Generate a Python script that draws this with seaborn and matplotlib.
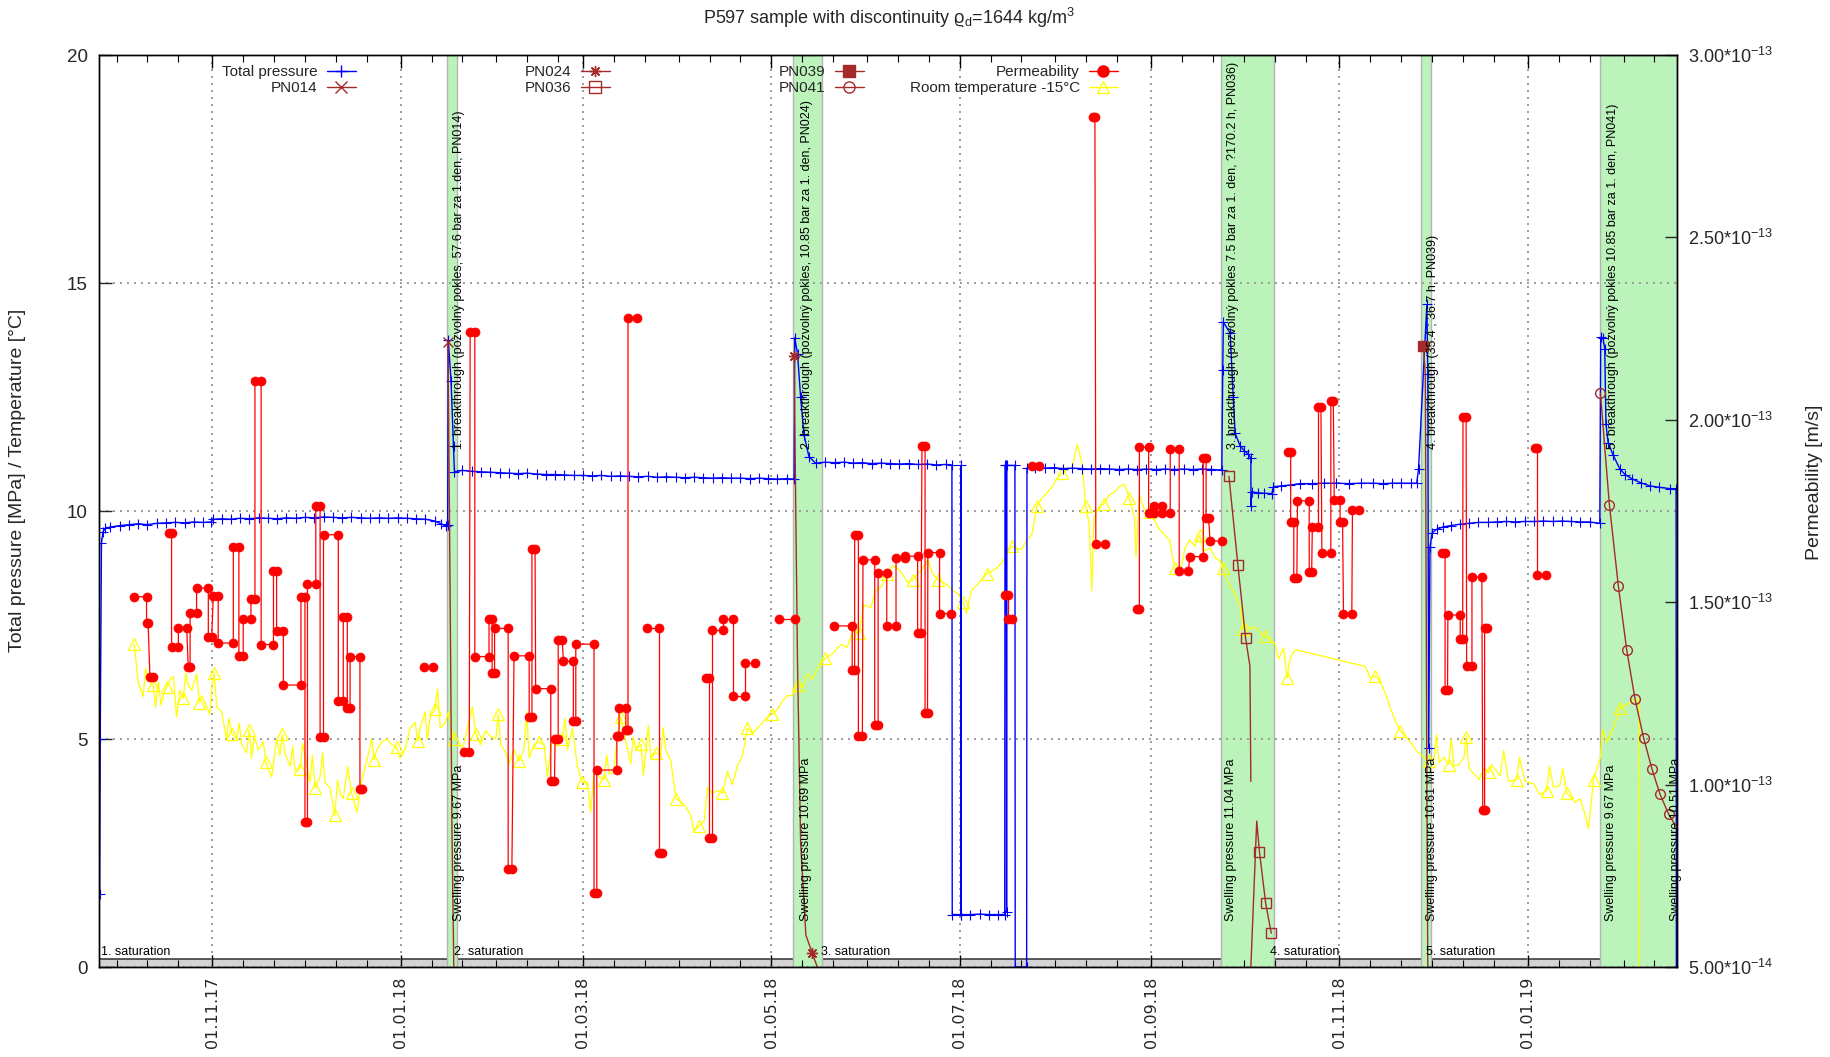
import numpy as np
import pandas as pd
import matplotlib
matplotlib.use("Agg")
import matplotlib.pyplot as plt
import matplotlib.dates as mdates
from matplotlib.lines import Line2D
from matplotlib.ticker import FixedLocator, NullFormatter
import seaborn as sns

# ---------------------------------------------------------------- data
BASE_DATE = "2017-11-01"          # day 0 of every "day" value below
X_RANGE_DAYS = (-36.7, 474.3)     # visible date range (days from BASE_DATE)

# total pressure [MPa]  (day, value)
total_pressure = [
    (-36.5, 1.6), (-36.3, 5.0), (-35.9, 9.3), (-35.4, 9.55), (-34.6, 9.62), (-33, 9.65),
    (-30, 9.68), (-27, 9.70), (-24, 9.72), (-21, 9.70), (-18, 9.73), (-15, 9.74),
    (-12, 9.75), (-9, 9.74), (-6, 9.76), (-3, 9.75), (-0.5, 9.76), (0.3, 9.82), (3, 9.83),
    (6, 9.82), (9, 9.84), (12, 9.83), (15, 9.85), (18, 9.84), (21, 9.83), (24, 9.85),
    (27, 9.84), (30, 9.86), (33, 9.85), (36, 9.87), (39, 9.86), (42, 9.85), (45, 9.86),
    (48, 9.85), (51, 9.84), (54, 9.85), (57, 9.84), (60, 9.85), (63, 9.84), (66, 9.83),
    (69, 9.82), (72, 9.78), (74, 9.72), (75.6, 9.68), (76.2, 9.70), (76.4, 13.75),
    (77.3, 12.86), (78.1, 11.43), (78.4, 10.86), (81, 10.89), (84, 10.87), (87, 10.86),
    (90, 10.85), (93, 10.84), (96, 10.83), (99, 10.82), (102, 10.83), (105, 10.81),
    (108, 10.80), (111, 10.80), (114, 10.79), (117, 10.78), (120, 10.78), (123, 10.77),
    (126, 10.78), (129, 10.76), (132, 10.77), (135, 10.76), (138, 10.75), (141, 10.76),
    (144, 10.74), (147, 10.75), (150, 10.74), (153, 10.73), (156, 10.74), (159, 10.73),
    (162, 10.72), (165, 10.73), (168, 10.72), (171, 10.72), (174, 10.71), (177, 10.72),
    (180, 10.71), (183, 10.70), (186, 10.71), (188.4, 10.70), (188.6, 13.80),
    (189.5, 13.45), (190.5, 12.50), (191.6, 11.67), (193.2, 11.19), (195.4, 11.05),
    (198.5, 11.07), (201.5, 11.06), (204.5, 11.07), (207.5, 11.05), (210.5, 11.06),
    (213.5, 11.04), (216.5, 11.05), (219.5, 11.04), (222.5, 11.03), (225.5, 11.04),
    (228.5, 11.02), (231.5, 11.03), (234.5, 11.01), (237.5, 11.02), (239.5, 11.00),
    (239.6, 1.15), (242.4, 1.15), (242.45, 11.0), (242.5, 1.15), (245.5, 1.15),
    (248.5, 1.16), (251.5, 1.15), (254.5, 1.15), (256.6, 1.15), (256.7, 11.0),
    (257.1, 11.0), (257.2, 1.2), (257.3, 11.0), (259.9, 11.0), (260.0, 0.0), (263.7, 0.0),
    (263.8, 10.94), (266.5, 10.95), (269.5, 10.94), (272.5, 10.95), (275.5, 10.93),
    (278.5, 10.94), (281.5, 10.93), (284.5, 10.92), (287.5, 10.93), (290.5, 10.92),
    (293.5, 10.91), (296.5, 10.92), (299.5, 10.91), (302.5, 10.92), (305.5, 10.91),
    (308.5, 10.92), (311.5, 10.91), (314.5, 10.92), (317.5, 10.91), (320.5, 10.92),
    (323.5, 10.91), (326.9, 10.90), (327.2, 13.10), (327.4, 14.14), (329.6, 13.90),
    (330.6, 12.49), (331.2, 11.71), (332.8, 11.43), (334.2, 11.32), (335.5, 11.24),
    (336.3, 11.16), (336.35, 10.10), (336.6, 10.42), (338.5, 10.40), (340.5, 10.39),
    (343.1, 10.38), (343.6, 10.53), (346, 10.55), (349, 10.57), (352.2, 10.60),
    (356, 10.60), (360, 10.61), (364, 10.61), (368, 10.60), (372, 10.61), (376, 10.61),
    (379, 10.60), (382, 10.61), (385, 10.61), (388, 10.61), (390.0, 10.61),
    (390.6, 10.92), (393.3, 14.53), (393.6, 13.00), (393.9, 4.80), (394.3, 9.20),
    (395.0, 9.52), (396.5, 9.60), (398.5, 9.65), (401, 9.68), (404, 9.71), (407, 9.73),
    (410, 9.75), (413, 9.75), (416, 9.76), (419, 9.77), (422, 9.76), (425, 9.77),
    (428, 9.77), (431, 9.78), (434, 9.77), (437, 9.78), (440, 9.77), (443, 9.76),
    (446, 9.76), (449.3, 9.73), (449.6, 13.81), (450.3, 13.80), (450.9, 13.56),
    (451.3, 11.90), (452.0, 11.50), (453.6, 11.23), (455.8, 10.92), (457.5, 10.80),
    (459.6, 10.71), (462.5, 10.62), (465.5, 10.55), (468.5, 10.52), (472.0, 10.49),
    (474.0, 10.49), (474.1, 0.0),
]

# room temperature -15 °C  (day, value)
room_temperature = [
    (-25.3, 7.08), (-24.0, 6.25), (-22.4, 5.93), (-21.6, 6.55), (-20.7, 6.31), (-19.1, 6.19),
    (-18.4, 5.70), (-17.5, 6.25), (-16.6, 5.75), (-15.9, 5.95), (-14.8, 6.13), (-13.7, 6.31),
    (-12.6, 6.37), (-11.6, 5.48), (-10.5, 6.07), (-9.4, 5.89), (-8.6, 6.45), (-7.8, 6.19),
    (-6.7, 6.07), (-5.1, 6.43), (-4.2, 5.80), (-3.5, 5.95), (-1.8, 5.71), (-0.8, 5.54),
    (-0.2, 6.13), (0.6, 6.45), (1.4, 5.71), (3.0, 5.60), (4.6, 5.00), (5.4, 5.45),
    (6.3, 5.12), (7.9, 5.00), (8.7, 5.35), (9.5, 4.88), (11.1, 4.70), (12.0, 5.20),
    (12.7, 4.58), (13.6, 5.05), (14.9, 4.76), (16.5, 4.94), (17.3, 4.50), (18.1, 4.35),
    (19.2, 4.17), (20.8, 5.00), (21.9, 4.64), (22.7, 5.10), (23.5, 4.70), (25.2, 4.40),
    (26.0, 4.85), (26.8, 4.29), (28.4, 4.35), (29.2, 4.90), (30.0, 4.64), (31.6, 4.05),
    (32.4, 4.65), (33.3, 3.93), (34.9, 4.17), (35.7, 4.70), (36.5, 4.05), (38.1, 3.93),
    (39.7, 3.33), (40.5, 4.10), (41.4, 3.81), (42.4, 3.69), (43.8, 4.40), (45.1, 3.81),
    (46.8, 3.39), (48.4, 4.11), (50.0, 4.52), (51.6, 5.00), (52.4, 4.55), (53.2, 4.76),
    (54.9, 4.94), (56.5, 5.00), (58.1, 4.88), (59.7, 4.82), (60.8, 4.58), (62.4, 4.76),
    (64.0, 5.24), (65.7, 5.36), (66.5, 4.95), (67.3, 5.24), (68.9, 5.60), (69.6, 5.00),
    (70.5, 5.48), (72.1, 5.65), (72.9, 6.10), (73.8, 5.24), (75.4, 5.36), (76.5, 5.60),
    (78.1, 5.00), (79.3, 5.00), (81.0, 4.76), (82.6, 5.24), (84.2, 5.71), (85.3, 5.12),
    (86.9, 4.88), (88.5, 5.18), (90.1, 5.06), (91.8, 5.00), (92.6, 5.55), (93.4, 4.88),
    (95.0, 4.70), (96.1, 4.46), (97.7, 4.76), (99.3, 4.52), (100.9, 4.76), (101.8, 5.60),
    (102.6, 4.58), (104.2, 4.88), (105.8, 4.94), (107.4, 4.88), (108.5, 4.17), (110.1, 5.00),
    (111.7, 4.88), (113.3, 5.00), (114.2, 5.45), (115.0, 4.76), (116.6, 5.24), (118.2, 4.40),
    (119.8, 4.05), (121.5, 4.05), (122.5, 3.39), (123.6, 4.29), (125.3, 4.17), (126.9, 4.11),
    (127.7, 4.65), (128.5, 4.23), (130.1, 4.29), (131.2, 5.12), (132.3, 5.48), (133.9, 4.94),
    (135.5, 4.46), (136.3, 5.05), (137.2, 4.76), (138.8, 4.88), (139.6, 4.20), (140.4, 4.76),
    (141.2, 5.30), (142.0, 4.58), (143.6, 4.70), (145.2, 4.64), (146.0, 5.25), (146.8, 4.76),
    (148.5, 4.52), (150.1, 3.69), (151.7, 3.63), (153.3, 3.51), (154.9, 3.33), (156.0, 2.98),
    (157.7, 3.10), (159.3, 3.21), (160.3, 3.93), (161.9, 3.81), (163.6, 3.87), (165.2, 3.81),
    (166.8, 4.29), (168.4, 4.00), (170.0, 4.40), (171.7, 4.64), (173.3, 5.24), (174.9, 5.12),
    (176.5, 5.24), (178.1, 5.36), (179.7, 5.48), (181.3, 5.54), (183.0, 5.65), (184.6, 5.83),
    (186.2, 5.95), (187.8, 5.95), (189.5, 6.19), (191.1, 6.13), (192.7, 6.43), (194.3, 6.31),
    (195.9, 6.55), (198.5, 6.77), (201.2, 6.89), (203.4, 7.07), (205.5, 7.01), (207.7, 7.38),
    (209.4, 7.32), (211.0, 7.94), (213.2, 7.88), (214.8, 8.25), (217.0, 8.37), (218.6, 8.62),
    (220.2, 8.80), (221.9, 8.74), (223.5, 8.62), (225.1, 8.43), (226.8, 8.49), (228.4, 8.62),
    (230.0, 8.74), (231.7, 8.93), (233.3, 8.62), (234.9, 8.49), (236.6, 8.43), (238.2, 8.37),
    (239.8, 8.25), (241.5, 8.19), (243.1, 8.00), (244.2, 7.75), (245.8, 8.25), (247.4, 8.37),
    (249.1, 8.49), (250.7, 8.62), (252.3, 8.68), (254.0, 8.74), (255.6, 8.86), (257.2, 9.05),
    (258.9, 9.23), (260.5, 9.17), (262.1, 9.17), (263.8, 9.36), (265.4, 9.48), (267.0, 10.10),
    (268.7, 10.28), (270.3, 10.41), (271.9, 10.53), (273.6, 10.72), (275.2, 10.84),
    (276.8, 10.90), (278.5, 10.96), (280.1, 11.46), (281.7, 11.02), (282.8, 10.10),
    (283.9, 9.73), (284.8, 8.25), (285.5, 9.85), (287.2, 10.10), (288.8, 10.16),
    (290.4, 10.35), (292.1, 10.41), (293.7, 10.53), (295.3, 10.59), (297.0, 10.28),
    (298.6, 9.85), (299.1, 8.99), (300.2, 10.35), (301.8, 10.04), (303.5, 9.98),
    (305.1, 9.79), (306.7, 9.60), (308.4, 9.48), (310.0, 9.36), (311.6, 8.74), (313.3, 8.62),
    (314.9, 9.17), (316.5, 9.36), (318.2, 9.23), (319.8, 9.48), (320.9, 9.11), (323.1, 9.19),
    (324.7, 8.98), (326.3, 8.90), (327.4, 8.74), (328.5, 8.49), (329.6, 8.36), (331.2, 8.16),
    (332.8, 7.91), (333.9, 7.41), (335.0, 7.50), (336.1, 7.41), (337.7, 7.45), (339.3, 7.33),
    (341.0, 7.25), (342.6, 7.17), (344.2, 7.08), (345.3, 6.75), (346.9, 7.00), (348.0, 6.34),
    (349.1, 6.79), (350.7, 6.96), (373.4, 6.59), (375.0, 6.34), (376.6, 6.38), (378.2, 6.26),
    (379.9, 6.00), (381.5, 5.68), (383.1, 5.39), (384.7, 5.18), (386.3, 5.06), (388.0, 4.93),
    (390.1, 4.73), (392.3, 4.60), (393.9, 4.52), (395.6, 4.56), (396.4, 5.10), (397.2, 4.48),
    (398.8, 4.60), (400.4, 4.44), (401.2, 5.00), (402.1, 4.40), (403.7, 4.44), (405.3, 4.60),
    (406.1, 5.05), (406.9, 4.36), (408.6, 4.23), (410.2, 4.11), (411.8, 4.36), (413.4, 4.27),
    (414.3, 4.44), (417.0, 4.19), (418.2, 4.75), (419.7, 4.07), (422.4, 4.11), (423.3, 4.60),
    (425.1, 4.07), (427.8, 4.02), (429.9, 3.78), (432.1, 3.86), (433.0, 4.40), (434.3, 3.94),
    (436.4, 3.98), (437.3, 4.35), (438.6, 3.82), (441.3, 3.61), (442.9, 3.69), (444.5, 3.36),
    (445.6, 3.03), (447.3, 4.11), (449.5, 4.60), (450.2, 5.20), (451.6, 4.93), (453.8, 5.26),
    (455.9, 5.68), (458.1, 5.76), (460.3, 5.84), (461.9, 5.88), (461.95, 0.0),
]

# permeability measurements: start day, end day, value [1e-13 m/s]; nan = gap
perm_start = [-25.3, -21.3, -20.2, np.nan, -13.9, -13.2, -11.0, -7.8, -7.2, -5.1, -1.3, 0.3,
              1.9, 6.8, 8.6, 10.0, 12.5, 13.8, 15.8, 19.8, 20.8, 23.0, 28.7, 30.0, 30.8, 33.5,
              34.9, 36.0, 40.8, 42.4, 43.7, 44.6, 47.8, np.nan, 68.4, np.nan, 81.5, 83.5, 85.0,
              89.6, 90.6, 91.4, 95.8, 97.7, 102.6, 103.5, 104.7, 109.6, 111.0, 112.0, 113.7,
              116.9, 117.7, 123.6, 124.5, 131.0, 131.7, 133.9, 134.6, np.nan, 140.7, 144.6,
              np.nan, 159.8, 160.8, 161.9, 165.5, 168.7, 172.4, np.nan, 183.5, np.nan, 201.2,
              207.2, 208.0, 209.2, 210.7, 214.5, 215.6, 218.4, 221.4, 224.3, 228.4, 229.8,
              230.8, 231.7, 235.5, np.nan, 256.8, 257.8, np.nan, 265.4, np.nan, 285.1, 286.1,
              np.nan, 299.4, 300.2, 303.2, 305.0, 307.5, 310.2, 313.1, 316.6, 320.9, 321.8,
              323.1, np.nan, 348.2, 349.2, 350.2, 351.4, 355.2, 356.2, 358.2, 359.3, 362.2,
              363.3, 365.2, 366.3, 369.2, np.nan, 398.2, 399.2, 400.1, 404.1, 405.0, 406.2,
              407.9, 411.4, 412.0, np.nan, 428.3, 428.9]
perm_end = [-21.3, -20.8, -19.1, np.nan, -13.2, -11.0, -8.3, -7.2, -5.1, -1.3, -0.2, 1.9,
            6.8, 8.6, 10.0, 12.5, 13.8, 15.8, 19.8, 20.8, 23.0, 28.7, 30.0, 30.8, 33.5, 34.9,
            36.0, 40.8, 42.4, 43.7, 44.6, 47.8, 48.4, np.nan, 71.6, np.nan, 83.2, 85.0, 89.6,
            90.6, 91.4, 95.8, 97.0, 102.6, 103.5, 104.5, 109.6, 110.8, 112.0, 113.3, 116.9,
            117.7, 123.6, 124.5, 131.0, 131.7, 133.9, 134.6, 137.6, np.nan, 144.6, 145.7,
            np.nan, 160.8, 161.9, 165.5, 168.7, 172.4, 175.6, np.nan, 188.6, np.nan, 207.2,
            208.0, 209.2, 210.5, 214.5, 215.6, 218.4, 221.4, 224.3, 228.4, 229.5, 230.8,
            231.6, 235.5, 239.1, np.nan, 257.8, 258.8, np.nan, 267.6, np.nan, 285.8, 289.1,
            np.nan, 300.2, 303.2, 305.0, 307.5, 310.2, 313.1, 316.0, 320.9, 321.8, 322.6,
            327.1, np.nan, 349.2, 350.2, 351.2, 355.2, 356.0, 358.2, 359.0, 362.2, 363.0,
            365.2, 366.0, 369.0, 371.4, np.nan, 399.2, 400.0, 404.1, 404.9, 406.0, 407.9,
            411.1, 412.0, 412.8, np.nan, 428.9, 431.9]
perm_e13 = [1.515, 1.443, 1.294, np.nan, 1.690, 1.378, 1.429, 1.321, 1.470, 1.539, 1.404,
            1.518, 1.388, 1.651, 1.353, 1.453, 1.510, 2.106, 1.384, 1.586, 1.420, 1.273,
            1.513, 0.898, 1.550, 1.763, 1.130, 1.685, 1.228, 1.459, 1.210, 1.351, 0.988,
            np.nan, 1.321, np.nan, 1.088, 2.241, 1.351, 1.453, 1.306, 1.428, 0.768, 1.353,
            1.185, 1.646, 1.263, 1.009, 1.125, 1.396, 1.338, 1.173, 1.385, 0.704, 1.040,
            1.133, 1.211, 1.151, 2.280, np.nan, 1.430, 0.813, np.nan, 1.291, 0.853, 1.423,
            1.453, 1.244, 1.334, np.nan, 1.453, np.nan, 1.435, 1.314, 1.685, 1.134, 1.616,
            1.164, 1.581, 1.434, 1.620, 1.626, 1.415, 1.929, 1.195, 1.636, 1.469, np.nan,
            1.519, 1.454, np.nan, 1.874, np.nan, 2.830, 1.659, np.nan, 1.480, 1.925, 1.744,
            1.763, 1.744, 1.920, 1.585, 1.625, 1.894, 1.731, 1.668, np.nan, 1.913, 1.721,
            1.566, 1.778, 1.584, 1.705, 2.036, 1.634, 2.051, 1.781, 1.721, 1.468, 1.753,
            np.nan, 1.635, 1.259, 1.465, 1.398, 2.009, 1.324, 1.569, 0.931, 1.429, np.nan,
            1.923, 1.574]

# breakthrough pressure decays [MPa] (day, value)
pn014 = [(76.3, 13.70), (76.9, 9.0), (77.6, 3.0), (78.2, 0.0)]
pn024 = [(188.4, 13.39), (188.9, 10.20), (189.5, 6.67), (190.5, 2.74), (192.2, 0.70),
         (194.3, 0.30), (195.9, 0.0)]
pn036 = [(329.2, 10.76), (332.1, 8.82), (334.6, 7.21), (336.0, 6.60), (336.3, 4.07),
         (np.nan, np.nan), (336.3, 0.0), (338.2, 3.20), (339.1, 2.52), (341.1, 1.40),
         (342.9, 0.74)]
pn039 = [(392.2, 13.61), (392.8, 13.00), (393.3, 4.00), (393.6, 0.0)]
pn041 = [(449.5, 12.58), (452.4, 10.14), (455.3, 8.36), (458.0, 6.96), (460.7, 5.88),
         (463.5, 5.02), (466.2, 4.34), (468.8, 3.79), (471.6, 3.35), (474.3, 3.05)]
# indices of the PN points that carry a symbol
pn014_marked = [0]
pn024_marked = [0, 5]
pn036_marked = [0, 1, 2, 8, 9, 10]
pn039_marked = [0]
pn041_marked = [0, 1, 2, 3, 4, 5, 6, 7, 8]

# test phases (green bands), days
phase_start = [76.0, 188.0, 326.6, 391.5, 449.4]
phase_end = [79.1, 197.5, 343.8, 394.5, 474.3]

breakthrough_day = [80.0, 192.6, 330.4, 395.4, 453.5]
breakthrough_text = [
    "1. breakthrough (pozvolný pokles, 57.6 bar za 1.den, PN014)",
    "2. breakthrough (pozvolný pokles, 10.85 bar za 1. den, PN024)",
    "3. breakthrough (pozvolný pokles 7.5 bar za 1. den, ?170.2 h, PN036)",
    "4. breakthrough (35.4 ; 36.7 h, PN039)",
    "5. breakthrough (pozvolný pokles 10.85 bar za 1. den, PN041)",
]
swelling_day = [80.0, 192.4, 330.0, 395.0, 452.8, 474.0]
swelling_text = ["Swelling pressure 9.67 MPa", "Swelling pressure 10.69 MPa",
                 "Swelling pressure 11.04 MPa", "Swelling pressure 10.61 MPa",
                 "Swelling pressure 9.67 MPa", "Swelling pressure 10.51 MPa"]
saturation_day = [-35.9, 78.2, 197.0, 342.5, 393.1]
saturation_text = ["1. saturation", "2. saturation", "3. saturation", "4. saturation",
                   "5. saturation"]

left_ticks = [0, 5, 10, 15, 20]
perm_ticks = [5e-14, 1e-13, 1.5e-13, 2e-13, 2.5e-13, 3e-13]
perm_tick_labels = ["5.00*10$^{-14}$", "1.00*10$^{-13}$", "1.50*10$^{-13}$",
                    "2.00*10$^{-13}$", "2.50*10$^{-13}$", "3.00*10$^{-13}$"]

# ---------------------------------------------------------------- style
sns.set_theme(style="ticks")
plt.rcParams["font.family"] = ["Liberation Sans", "DejaVu Sans"]
plt.rcParams["mathtext.default"] = "regular"
plt.rcParams["xtick.direction"] = "in"
plt.rcParams["ytick.direction"] = "in"

BLUE, RED, YELLOW, BROWN = "#0000ff", "#ff0000", "#ffff00", "#a52a2a"
GREEN, GREY = "#bbf3bb", "#d3d3d3"

base = mdates.date2num(pd.Timestamp(BASE_DATE))


def dn(days):
    return base + np.asarray(days, dtype=float)


def draw(ax, pts, marked=None, **kw):
    """Draw a (day, value) series with seaborn, breaking at nan rows."""
    arr = np.asarray(pts, dtype=float)
    breaks = np.where(np.isnan(arr[:, 0]))[0]
    start = 0
    for stop in list(breaks) + [len(arr)]:
        seg = arr[start:stop]
        if len(seg):
            mk = None
            if marked is not None:
                mk = [i - start for i in marked if start <= i < stop]
            sns.lineplot(x=dn(seg[:, 0]), y=seg[:, 1], ax=ax, estimator=None,
                         sort=False, legend=False, markevery=mk, **kw)
        start = stop + 1


fig = plt.figure(figsize=(18.3, 10.57), dpi=100)
ax = fig.add_axes([99 / 1830, 1 - 967 / 1057, 1578 / 1830, 912 / 1057])
ax2 = ax.twinx()

ax.set_xlim(dn(X_RANGE_DAYS[0]), dn(X_RANGE_DAYS[1]))
ax.set_ylim(0, 20)
ax2.set_ylim(5e-14, 3e-13)

# background bands
ax.axhspan(0, 0.18, color=GREY, zorder=0.1, lw=0)
ax.axhline(0.18, color="#303030", lw=1.1, zorder=0.15)
for a, b in zip(phase_start, phase_end):
    ax.axvspan(dn(a), dn(b), facecolor=GREEN, edgecolor="#b4b4b4", lw=1.0, zorder=0.3)

# grid
ax.set_axisbelow(True)
ax.grid(True, which="major", axis="both", color="#9a9a9a",
        linestyle=(0, (1.0, 2.6)), linewidth=1.4)

# series on the left axis
draw(ax, room_temperature, marked=list(range(0, len(room_temperature), 5)),
     color=YELLOW, linewidth=0.9, marker="^", markersize=8, fillstyle="none",
     mec=YELLOW, mew=0.9)
draw(ax, total_pressure, marked=list(range(len(total_pressure))), color=BLUE,
     linewidth=1.0, marker="+", markersize=6.5, mec=BLUE, mew=0.8)
draw(ax, pn014, pn014_marked, color=BROWN, linewidth=1.0, marker="x", markersize=7,
     mec=BROWN, mew=1.0)
draw(ax, pn024, pn024_marked, color=BROWN, linewidth=1.0, marker=(8, 2, 0),
     markersize=8, mec=BROWN, mew=1.0)
draw(ax, pn036, pn036_marked, color=BROWN, linewidth=1.0, marker="s", markersize=7,
     fillstyle="none", mec=BROWN, mew=1.0)
draw(ax, pn039, pn039_marked, color=BROWN, linewidth=1.0, marker="s", markersize=7,
     mec=BROWN, mew=1.0)
draw(ax, pn041, pn041_marked, color=BROWN, linewidth=1.0, marker="o", markersize=7,
     fillstyle="none", mec=BROWN, mew=1.0)

# permeability on the right axis
px, py, unit = [], [], []
seg_id = 0
for a, b, v in zip(perm_start, perm_end, perm_e13):
    if np.isnan(v):
        seg_id += 1
        continue
    px += [a, b]
    py += [v * 1e-13, v * 1e-13]
    unit += [seg_id, seg_id]
perm_df = pd.DataFrame({"date": dn(px), "perm": py, "seg": unit})
sns.lineplot(data=perm_df, x="date", y="perm", units="seg", estimator=None, sort=False,
             ax=ax2, legend=False, color=RED, linewidth=0.9, marker="o", markersize=6.5,
             mec=RED, mew=0.5)

# annotations
for d, t in zip(breakthrough_day, breakthrough_text):
    ax.text(dn(d), 11.36, t, rotation=90, ha="center", va="bottom", fontsize=9,
            color="black", zorder=5, clip_on=False)
for d, t in zip(swelling_day, swelling_text):
    ax.text(dn(d), 1.0, t, rotation=90, ha="center", va="bottom", fontsize=9,
            color="black", zorder=5, clip_on=False)
for d, t in zip(saturation_day, saturation_text):
    ax.text(dn(d), 0.2, t, ha="left", va="bottom", fontsize=9, color="black", zorder=5)

# axes, ticks
ax.xaxis.set_major_locator(mdates.MonthLocator(bymonth=[1, 3, 5, 7, 9, 11]))
ax.xaxis.set_major_formatter(mdates.DateFormatter("%d.%m.%y"))
ax.xaxis.set_minor_locator(mdates.DayLocator(bymonthday=[1, 11, 21]))
ax.tick_params(axis="x", which="major", top=True, bottom=True, length=9, width=1,
               color="black", pad=7, labelsize=11.5)
ax.tick_params(axis="x", which="minor", top=True, bottom=True, length=5, width=0.8,
               color="black")
for lab in ax.get_xticklabels():
    lab.set_rotation(90)
    lab.set_fontfamily("DejaVu Sans")
    lab.set_va("top")
    lab.set_ha("center")

ax.yaxis.set_major_locator(FixedLocator(left_ticks))
ax.tick_params(axis="y", which="major", left=True, right=False, length=9, width=1,
               pad=8, labelsize=13.5)
ax2.yaxis.set_major_locator(FixedLocator(perm_ticks))
ax2.set_yticklabels(perm_tick_labels)
ax2.tick_params(axis="y", which="major", right=True, length=9, width=1, pad=8,
                labelsize=13)
ax2.yaxis.set_minor_formatter(NullFormatter())

for sp in list(ax.spines.values()) + list(ax2.spines.values()):
    sp.set_color("black")
    sp.set_linewidth(1.0)

ax.set_xlabel("")
ax2.set_xlabel("")
ax.set_ylabel("Total pressure [MPa] / Temperature [°C]", fontsize=14)
ax.yaxis.set_label_coords(-0.046, 0.534)
ax2.set_ylabel("Permeability [m/s]", fontsize=14, rotation=90)
ax2.yaxis.set_label_coords(1.082, 0.532)

fig.text(889 / 1830, 1 - 18 / 1057,
         "P597 sample with discontinuity ϱ$_{d}$=1644 kg/m$^{3}$",
         ha="center", va="center", fontsize=13)

# legend: four right-aligned columns like the original key
legend_cols = [
    [("Total pressure", dict(color=BLUE, marker="+", mec=BLUE)),
     ("PN014", dict(color=BROWN, marker="x", mec=BROWN))],
    [("PN024", dict(color=BROWN, marker=(8, 2, 0), mec=BROWN)),
     ("PN036", dict(color=BROWN, marker="s", fillstyle="none", mec=BROWN))],
    [("PN039", dict(color=BROWN, marker="s", mec=BROWN)),
     ("PN041", dict(color=BROWN, marker="o", fillstyle="none", mec=BROWN))],
    [("Permeability", dict(color=RED, marker="o", mec=RED)),
     ("Room temperature -15°C", dict(color=YELLOW, marker="^", fillstyle="none",
                                     mec=YELLOW))],
]
legend_right_px = [356, 610, 864, 1118]
for col, xr in zip(legend_cols, legend_right_px):
    handles = [Line2D([], [], linewidth=1.0, markersize=8, mew=1.0, **st) for _, st in col]
    labels = [lab for lab, _ in col]
    fig.legend(handles, labels, loc="upper right",
               bbox_to_anchor=(xr / 1830, 1 - 65 / 1057),
               bbox_transform=fig.transFigure, frameon=False, markerfirst=False,
               fontsize=11, handlelength=1.9, handletextpad=0.6, borderpad=0,
               borderaxespad=0, labelspacing=0.15, numpoints=1)

fig.savefig("out.png", dpi=100)
